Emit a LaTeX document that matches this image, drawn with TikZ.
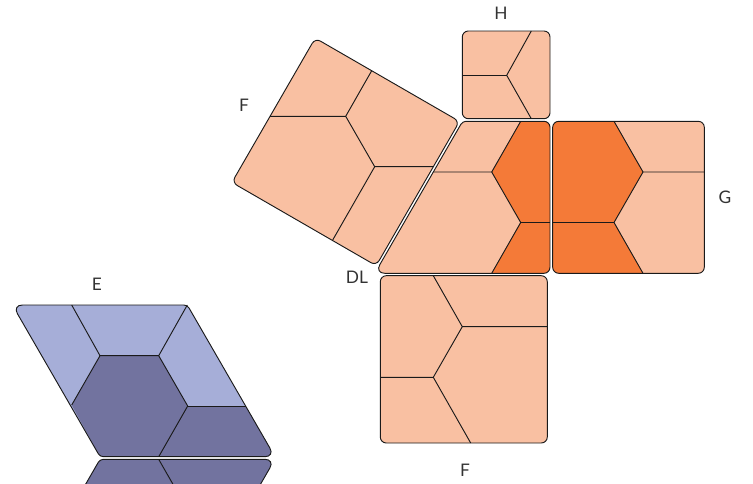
\documentclass[tikz,border=0pt]{standalone}
\usepackage{fontspec}
\setmainfont{Lato}
\usepackage{xcolor}
\definecolor{peach}{HTML}{F9C0A2}
\definecolor{orng}{HTML}{F47A38}
\definecolor{lilac}{HTML}{A6AED8}
\definecolor{slate}{HTML}{72739F}
\definecolor{ink}{HTML}{1A1A1A}
\definecolor{txt}{HTML}{333333}
\tikzset{
  rim/.style={draw=ink,line width=0.7pt},
  cut/.style={draw=ink,line width=0.7pt},
  lab/.style={font=\fontsize{13}{15}\selectfont,text=txt,inner sep=0pt},
  soft/.style={rounded corners=4.5pt},
  tight/.style={rounded corners=2.5pt},
  wide/.style={rounded corners=7.5pt},
}
\newcommand{\shapeH}{[soft] (462.3,31) -- (550,31) -- (550,118.7) -- (462.3,118.7) -- cycle}
\newcommand{\shapeG}{[soft] (552.7,121.3) -- (704.3,121.3) -- (704.3,273.3) -- (552.7,273.3) -- cycle}
\newcommand{\shapeDL}{(500,121.3) [soft] -- (550,121.3) -- (550,273.3) [wide] -- (374.8,273.3) [tight] -- (462.6,121.3) -- cycle}
\newcommand{\shapeFa}{[soft] (315.2,38.1) -- (459.5,121.4) -- (376.2,265.7) -- (231.9,182.4) -- cycle}
\newcommand{\shapeFb}{[soft] (380.3,275.7) -- (547.3,275.7) -- (547.3,443) -- (380.3,443) -- cycle}
\newcommand{\shapeE}{(100,305) [tight] -- (187.3,305) [wide] -- (274.9,456.7) [tight] -- (100,456.7) [wide] -- (12.4,305) -- cycle}
\newcommand{\shapeEb}{(200,459.3) [wide] -- (274.9,459.3) [tight] -- (187.3,611) -- (12.4,611) -- (100,459.3) -- cycle}
\begin{document}
\begin{tikzpicture}[x=0.75pt,y=-0.75pt]
\useasboundingbox (0,0) rectangle (753,483);
\clip (0,0) rectangle (753,483);

% top square
\fill[peach] \shapeH;
\coordinate (hc) at (506.7,75.3);
\draw[cut] (531.3,31) -- (hc) -- (531.3,118.7);
\draw[cut] (462.3,75.3) -- (hc);
\draw[rim] \shapeH;

% tilted square
\fill[peach] \shapeFa;
\coordinate (fa) at (345.7,116.3);
\coordinate (fb) at (374.7,166.7);
\draw[cut] (270,116.3) -- (fa) -- (fb) -- (433.3,166.7);
\draw[cut] (fa) -- (371.7,70.7);
\draw[cut] (fb) -- (332.7,240);
\draw[rim] \shapeFa;

% middle
\fill[peach] \shapeDL;
\begin{scope}
\clip \shapeDL;
\fill[orng] (520.7,121.3) -- (491.7,172) -- (520.7,222.5) -- (491.7,273.3) -- (550,273.3) -- (550,121.3) -- cycle;
\end{scope}
\coordinate (da) at (491.7,172);
\coordinate (db) at (520.7,222.5);
\draw[cut] (433.3,172) -- (da) -- (520.7,121.3);
\draw[cut] (da) -- (db) -- (491.7,273.3);
\draw[cut] (db) -- (550,222.5);
\draw[rim] \shapeDL;

% right square
\fill[peach] \shapeG;
\begin{scope}
\clip \shapeG;
\fill[orng] (552.7,121.3) -- (614,121.3) -- (643,172) -- (614,222.5) -- (643,273.3) -- (552.7,273.3) -- cycle;
\end{scope}
\coordinate (ga) at (643,172);
\coordinate (gb) at (614,222.5);
\draw[cut] (614,121.3) -- (ga) -- (704.3,172);
\draw[cut] (ga) -- (gb) -- (643,273.3);
\draw[cut] (gb) -- (552.7,222.5);
\draw[rim] \shapeG;

% bottom square
\fill[peach] \shapeFb;
\coordinate (ba) at (462.3,326.7);
\coordinate (bb) at (433.3,377.3);
\draw[cut] (433.3,275.7) -- (ba) -- (547.3,326.7);
\draw[cut] (ba) -- (bb) -- (380.3,377.3);
\draw[cut] (bb) -- (470.7,443);
\draw[rim] \shapeFb;

% blue rhombus
\fill[lilac] \shapeE;
\begin{scope}
\clip \shapeE;
\fill[slate] (100,355.7) -- (158.7,355.7) -- (187.7,406) -- (246,406) -- (274.9,456.7) -- (100,456.7) -- (71.7,405) -- cycle;
\end{scope}
\coordinate (ea) at (100,355.7);
\coordinate (eb) at (158.7,355.7);
\coordinate (ec) at (187.7,406);
\coordinate (ed) at (158.7,456.7);
\coordinate (ee) at (71.7,405);
\draw[cut] (ee) -- (ea) -- (eb) -- (ec) -- (ed);
\draw[cut] (71.7,305) -- (ea);
\draw[cut] (187.3,305) -- (eb);
\draw[cut] (ec) -- (246,406);
\draw[rim] \shapeE;

% cut off one below
\fill[slate] \shapeEb;
\draw[cut] (158.7,459.3) -- (187.7,510);
\draw[rim] \shapeEb;

\node[lab] (labH) at (501,13.5) {H};
\node[lab] (labFa) at (244,105) {F};
\node[lab] (labDL) at (357,277) {DL};
\node[lab] (labG) at (725,197) {G};
\node[lab] (labE) at (97,284) {E};
\node[lab] (labFb) at (465,470) {F};
\end{tikzpicture}
\end{document}
